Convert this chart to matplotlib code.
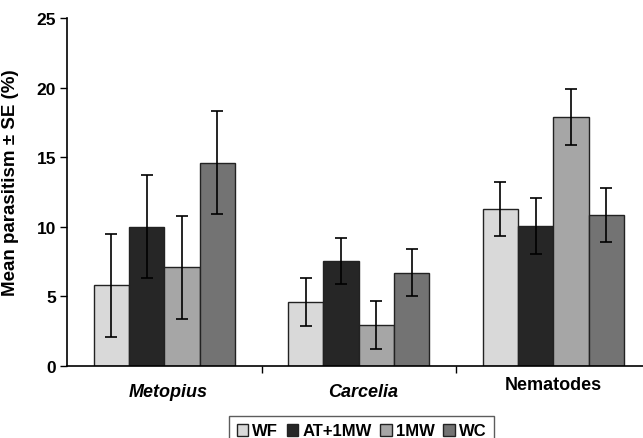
import numpy as np
import matplotlib
matplotlib.use('Agg')
import matplotlib.pyplot as plt

plt.rcParams['font.family'] = ['Liberation Sans', 'DejaVu Sans']

# Data
categories = ["Metopius", "Carcelia", "Nematodes"]
series = ["WF", "AT+1MW", "1MW", "WC"]
means = {
    "WF":     [5.8, 4.6, 11.3],
    "AT+1MW": [10.0, 7.55, 10.05],
    "1MW":    [7.1, 2.95, 17.9],
    "WC":     [14.6, 6.7, 10.85],
}
errors = {
    "WF":     [3.7, 1.72, 1.95],
    "AT+1MW": [3.7, 1.68, 2.0],
    "1MW":    [3.7, 1.72, 2.0],
    "WC":     [3.7, 1.68, 1.97],
}
colors = ["#d9d9d9", "#262626", "#a6a6a6", "#737373"]

fig = plt.figure(figsize=(6.43, 4.39), dpi=100)
# axes runs slightly past the right edge, as in the reference
ax = fig.add_axes([0.1042, 0.164, 0.9075, 0.7927])

n = len(series)
bar_w = 0.1815
x = np.arange(len(categories))
for i, s in enumerate(series):
    pos = x + (i - (n - 1) / 2) * bar_w
    ax.bar(pos, means[s], width=bar_w, color=colors[i], edgecolor="#222222",
           linewidth=1.0, label=s, zorder=2)
    ax.errorbar(pos, means[s], yerr=errors[s], fmt="none", ecolor="black",
                elinewidth=1.2, capsize=4, capthick=1.2, zorder=3)

ax.set_xlim(-0.5, len(categories) - 0.5)
ax.set_ylim(0, 25)
ax.set_yticks([0, 5, 10, 15, 20, 25])
ax.set_yticklabels(["0", "5", "10", "15", "20", "25"], fontweight="bold", fontsize=12.5)
ax.set_xticks([0.5, 1.5])
ax.set_xticklabels([])
ax.tick_params(axis="x", direction="out", length=5, width=1)
ax.tick_params(axis="y", direction="out", length=5, width=1, pad=3)

for sp in ["top", "right"]:
    ax.spines[sp].set_visible(False)
for sp in ["left", "bottom"]:
    ax.spines[sp].set_linewidth(1.2)

ax.set_ylabel("Mean parasitism ± SE (%)", fontweight="bold", fontsize=13.5)
ax.yaxis.set_label_coords(-0.083, 0.53)

# category labels
ax.text(0.02, -1.85, categories[0], style="italic", fontweight="bold", fontsize=13,
        ha="center", va="center")
ax.text(1.02, -1.85, categories[1], style="italic", fontweight="bold", fontsize=13,
        ha="center", va="center")
ax.text(2.0, -1.3, categories[2], fontweight="bold", fontsize=13,
        ha="center", va="center")

leg = fig.legend(loc="upper left", bbox_to_anchor=(229 / 643, 1 - 417 / 439), ncol=4,
                 frameon=True, fancybox=False, edgecolor="#333333",
                 prop={"weight": "bold", "size": 12}, handlelength=0.7,
                 handleheight=0.7, handletextpad=0.25, columnspacing=0.5,
                 borderpad=0.45, borderaxespad=0.0)
leg.get_frame().set_linewidth(1.0)

fig.savefig("out.png", dpi=100)
